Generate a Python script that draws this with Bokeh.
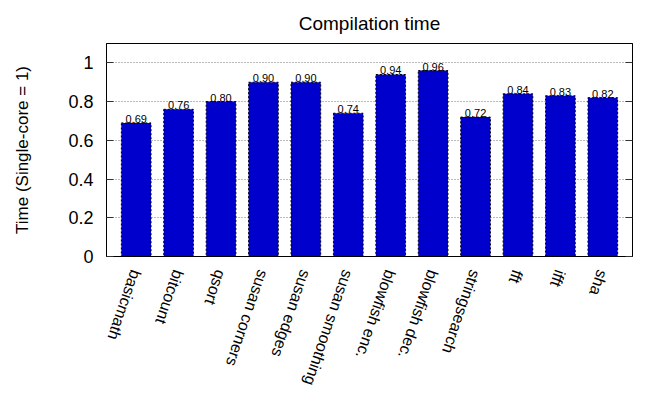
import math
from bokeh.plotting import figure
from bokeh.core.properties import value
from bokeh.models import (ColumnDataSource, LabelSet, FixedTicker, Range1d, LinearAxis,
                          FactorRange, CustomJSTickFormatter)
from bokeh.embed import file_html
from bokeh.resources import INLINE

benchmarks = ["basicmath", "bitcount", "qsort", "susan corners", "susan edges",
              "susan smoothing", "blowfish enc.", "blowfish dec.", "stringsearch",
              "fft", "ifft", "sha"]
times = [0.69, 0.76, 0.80, 0.90, 0.90, 0.74, 0.94, 0.96, 0.72, 0.84, 0.83, 0.82]
value_labels = ["%.2f" % t for t in times]
y_ticks = [0, 0.2, 0.4, 0.6, 0.8, 1.0]
title_text = "Compilation time"

FONT = "Liberation Sans"

src = ColumnDataSource(dict(bench=benchmarks, time=times, label=value_labels))

p = figure(width=646, height=395, output_backend="svg", toolbar_location=None,
           x_range=FactorRange(factors=benchmarks, range_padding=0.2,
                               range_padding_units="absolute"),
           y_range=Range1d(0, 1.1),
           min_border_left=106, min_border_right=14, min_border_top=43,
           min_border_bottom=139)

p.title.text = title_text
p.title.align = "center"
p.title.vertical_align = "bottom"
p.title.text_font = FONT
p.title.text_font_size = "19px"
p.title.text_font_style = "normal"
p.title.text_color = "black"
p.title.standoff = 20

p.outline_line_color = "black"
p.outline_line_width = 1

p.xgrid.grid_line_color = None
p.ygrid.ticker = FixedTicker(ticks=y_ticks)
p.ygrid.grid_line_color = "#777777"
p.ygrid.grid_line_dash = "1 2"
p.ygrid.grid_line_width = 1

p.vbar(x="bench", top="time", width=0.7, source=src, fill_color="#0000CC",
       line_color="black", line_dash="2 2", line_width=1)

p.add_layout(LabelSet(x="bench", y="time", text="label", source=src,
                      text_align="center", text_baseline="bottom", y_offset=0,
                      text_font=value(FONT), text_font_size=value("11px"),
                      text_color="black"))

fmt = CustomJSTickFormatter(code="return String(Math.round(tick*10)/10);")

ya = p.yaxis[0]
ya.ticker = FixedTicker(ticks=y_ticks)
ya.formatter = fmt
ya.major_tick_in = 7
ya.major_tick_out = 0
ya.major_tick_line_color = "#333333"
ya.minor_tick_line_color = None
ya.axis_line_color = "black"
ya.major_label_standoff = 13
ya.major_label_text_font = FONT
ya.major_label_text_font_size = "18px"
ya.major_label_text_color = "black"
ya.axis_label = "Time (Single-core = 1)"
ya.axis_label_text_font = FONT
ya.axis_label_text_font_size = "17px"
ya.axis_label_text_font_style = "normal"
ya.axis_label_text_color = "black"
ya.axis_label_standoff = 33

ra = LinearAxis(ticker=FixedTicker(ticks=y_ticks),
                formatter=CustomJSTickFormatter(code="return '';"))
ra.major_tick_in = 7
ra.major_tick_out = 0
ra.major_tick_line_color = "#333333"
ra.minor_tick_line_color = None
ra.axis_line_color = "black"
ra.major_label_standoff = 0
ra.major_label_text_font_size = "1px"
p.add_layout(ra, "right")

xa = p.xaxis[0]
xa.major_tick_line_color = None
xa.minor_tick_line_color = None
xa.axis_line_color = "black"
xa.major_label_orientation = -109 * math.pi / 180
xa.major_label_standoff = 8
xa.major_label_text_font = FONT
xa.major_label_text_font_size = "16px"
xa.major_label_text_color = "black"

open("out.html", "w").write(file_html(p, INLINE))
